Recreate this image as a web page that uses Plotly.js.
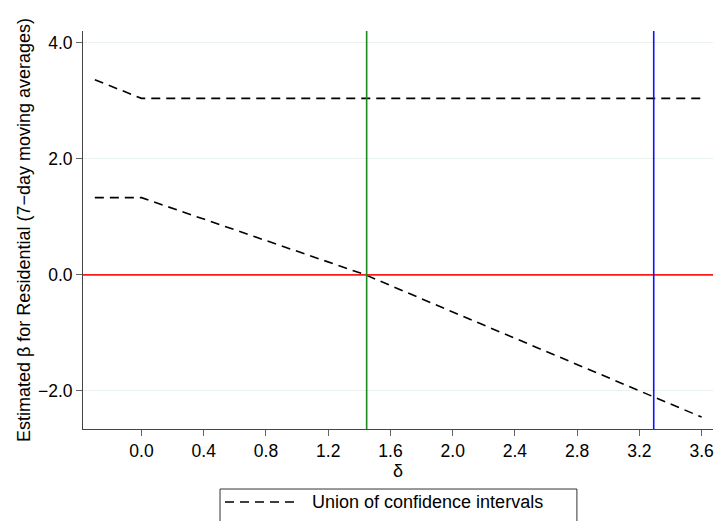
<!DOCTYPE html>
<html>
<head>
<meta charset="utf-8">
<script src="https://cdn.plot.ly/plotly-3.0.1.min.js"></script>
<style>html,body{margin:0;padding:0;background:#fff}#chart{width:715px;height:521px}</style>
</head>
<body>
<div id="chart"></div>
<script>
// Data
var deltaUpper = [-0.3, 0.0, 0.4, 0.8, 1.2, 1.6, 2.0, 2.4, 2.8, 3.2, 3.6];
var betaUpper  = [3.36, 3.04, 3.04, 3.04, 3.04, 3.04, 3.04, 3.04, 3.04, 3.04, 3.04];
var deltaLower = [-0.3, 0.0, 0.4, 0.8, 1.2, 1.44, 2.0, 2.4, 2.8, 3.2, 3.6];
var betaLower  = [1.33, 1.33, 0.96, 0.59, 0.22, 0.0, -0.64, -1.09, -1.54, -1.99, -2.45];
var refH = 0.0;            // red horizontal reference
var refV = [1.447, 3.292]; // green and blue vertical references
var refVColors = ['#1f8a1f', '#1010ff'];
var xTicks = [0.0, 0.4, 0.8, 1.2, 1.6, 2.0, 2.4, 2.8, 3.2, 3.6];
var yTicks = [-2.0, 0.0, 2.0, 4.0];
var legendLabel = 'Union of confidence intervals';

var font = 'Liberation Sans, Arial, Helvetica, sans-serif';
var dashStyle = '9px,6px';

var traces = [
  {x: deltaUpper, y: betaUpper, mode: 'lines', name: legendLabel,
   line: {color: '#000', width: 1.6, dash: dashStyle}, showlegend: false, hoverinfo: 'x+y'},
  {x: deltaLower, y: betaLower, mode: 'lines', name: legendLabel,
   line: {color: '#000', width: 1.6, dash: dashStyle}, showlegend: false, hoverinfo: 'x+y'}
];

var shapes = [
  {type: 'line', xref: 'paper', yref: 'y', x0: 0, x1: 1, y0: refH, y1: refH,
   line: {color: '#ff1a1a', width: 1.6}, layer: 'above'}
];
refV.forEach(function (v, i) {
  shapes.push({type: 'line', xref: 'x', yref: 'paper', x0: v, x1: v, y0: 0, y1: 1,
    line: {color: refVColors[i], width: 1.6}, layer: 'above'});
});
// legend box (manual, below plot)
shapes.push({type: 'rect', xref: 'paper', yref: 'paper', x0: 0.2175, x1: 0.784, y0: -0.26, y1: -0.1508,
  line: {color: '#333', width: 1}, fillcolor: '#fff'});
shapes.push({type: 'line', xref: 'paper', yref: 'paper', x0: 0.2254, x1: 0.3397, y0: -0.1834, y1: -0.1834,
  line: {color: '#000', width: 1.4, dash: '9px,6px'}});

var layout = {
  width: 715, height: 521,
  margin: {l: 83, r: 2, t: 31, b: 92},
  paper_bgcolor: '#fff', plot_bgcolor: '#fff',
  font: {family: font, size: 18, color: '#000'},
  showlegend: false,
  xaxis: {
    range: [-0.376, 3.673], tickvals: xTicks, tickformat: '.1f',
    showgrid: false, zeroline: false, showline: true, linecolor: '#444', linewidth: 1,
    ticks: 'outside', ticklen: 6, tickcolor: '#666', tickwidth: 1,
    tickfont: {family: font, size: 17.5},
    title: {text: 'δ', font: {family: font, size: 18}, standoff: 2}
  },
  yaxis: {
    range: [-2.655, 4.2], tickvals: yTicks, tickformat: '.1f',
    showgrid: true, gridcolor: '#e9f0f0', gridwidth: 1,
    zeroline: false, showline: true, linecolor: '#444', linewidth: 1,
    ticks: 'outside', ticklen: 6, tickcolor: '#666', tickwidth: 1,
    tickfont: {family: font, size: 17.5},
    title: {text: 'Estimated β for Residential (7−day moving averages)', font: {family: font, size: 18}, standoff: 2}
  },
  shapes: shapes,
  annotations: [
    {xref: 'paper', yref: 'paper', x: 0.3603, y: -0.1834, xanchor: 'left', yanchor: 'middle',
     text: legendLabel, showarrow: false, font: {family: font, size: 18, color: '#000'}}
  ]
};

Plotly.newPlot('chart', traces, layout, {displayModeBar: false, staticPlot: true});
</script>
</body>
</html>
